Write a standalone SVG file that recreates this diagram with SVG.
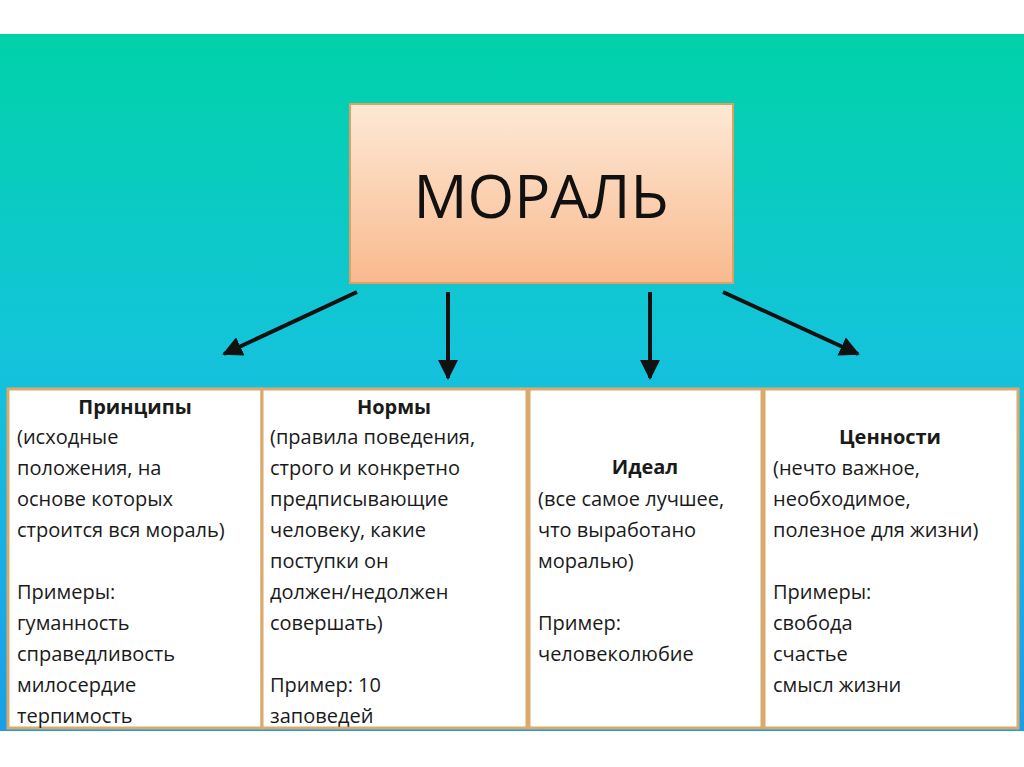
<svg xmlns="http://www.w3.org/2000/svg" width="1024" height="767" viewBox="0 0 1024 767">
<defs>
<linearGradient id="bg" x1="0" y1="0" x2="0" y2="1">
<stop offset="0" stop-color="#00d2a8"/><stop offset="0.45" stop-color="#13c4da"/><stop offset="0.85" stop-color="#1aa8e8"/><stop offset="1" stop-color="#1a9fe6"/>
</linearGradient>
<linearGradient id="tb" x1="0" y1="0" x2="0" y2="1">
<stop offset="0" stop-color="#fde9d6"/><stop offset="1" stop-color="#f9b98e"/>
</linearGradient>
<marker id="ah" viewBox="0 0 10 10" refX="9" refY="5" markerWidth="5" markerHeight="5" orient="auto"><path d="M0,0 L10,5 L0,10 Z" fill="#111"/></marker>
</defs>
<style>
.box{fill:#fff;stroke:#d9aa6c;stroke-width:3}
.t{font-family:"Open Sans","Liberation Sans",sans-serif;font-size:20px;fill:#1a1a1a}
.h{font-weight:bold}
.c{stroke:#111;stroke-width:4;fill:none;marker-end:url(#ah)}
</style>
<rect width="1024" height="767" fill="#fff"/>
<rect x="0" y="34" width="1024" height="697" fill="url(#bg)"/>
<g id="moral">
<rect x="350" y="104" width="383" height="179" fill="url(#tb)" stroke="#e0a060" stroke-width="2"/>
<text x="541" y="218" text-anchor="middle" font-family="'Open Sans','Liberation Sans',sans-serif" font-size="60" fill="#111">МОРАЛЬ</text>
</g>
<g id="connectors">
<line class="c" x1="357" y1="292" x2="224" y2="354"/>
<line class="c" x1="448" y1="292" x2="448" y2="378"/>
<line class="c" x1="650" y1="292" x2="650" y2="378"/>
<line class="c" x1="723" y1="292" x2="858" y2="354"/>
</g>
<g id="principles">
<rect class="box" x="8" y="389" width="254" height="339"/>
<text class="t"><tspan class="h" x="135" y="414" text-anchor="middle">Принципы</tspan><tspan x="17" y="444">(исходные</tspan><tspan x="17" y="475">положения, на</tspan><tspan x="17" y="506">основе которых</tspan><tspan x="17" y="537">строится вся мораль)</tspan><tspan x="17" y="599">Примеры:</tspan><tspan x="17" y="630">гуманность</tspan><tspan x="17" y="661">справедливость</tspan><tspan x="17" y="692">милосердие</tspan><tspan x="17" y="723">терпимость</tspan></text>
</g>
<g id="norms">
<rect class="box" x="262" y="389" width="265" height="339"/>
<text class="t"><tspan class="h" x="394" y="414" text-anchor="middle">Нормы</tspan><tspan x="270" y="444">(правила поведения,</tspan><tspan x="270" y="475">строго и конкретно</tspan><tspan x="270" y="506">предписывающие</tspan><tspan x="270" y="537">человеку, какие</tspan><tspan x="270" y="568">поступки он</tspan><tspan x="270" y="599">должен/недолжен</tspan><tspan x="270" y="630">совершать)</tspan><tspan x="270" y="692">Пример: 10</tspan><tspan x="270" y="723">заповедей</tspan></text>
</g>
<g id="ideal">
<rect class="box" x="529" y="389" width="233" height="339"/>
<text class="t"><tspan class="h" x="645" y="474" text-anchor="middle">Идеал</tspan><tspan x="538" y="506">(все самое лучшее,</tspan><tspan x="538" y="537">что выработано</tspan><tspan x="538" y="568">моралью)</tspan><tspan x="538" y="630">Пример:</tspan><tspan x="538" y="661">человеколюбие</tspan></text>
</g>
<g id="values">
<rect class="box" x="764" y="389" width="254" height="339"/>
<text class="t"><tspan class="h" x="890" y="444" text-anchor="middle">Ценности</tspan><tspan x="773" y="475">(нечто важное,</tspan><tspan x="773" y="506">необходимое,</tspan><tspan x="773" y="537">полезное для жизни)</tspan><tspan x="773" y="599">Примеры:</tspan><tspan x="773" y="630">свобода</tspan><tspan x="773" y="661">счастье</tspan><tspan x="773" y="692">смысл жизни</tspan></text>
</g>
</svg>
